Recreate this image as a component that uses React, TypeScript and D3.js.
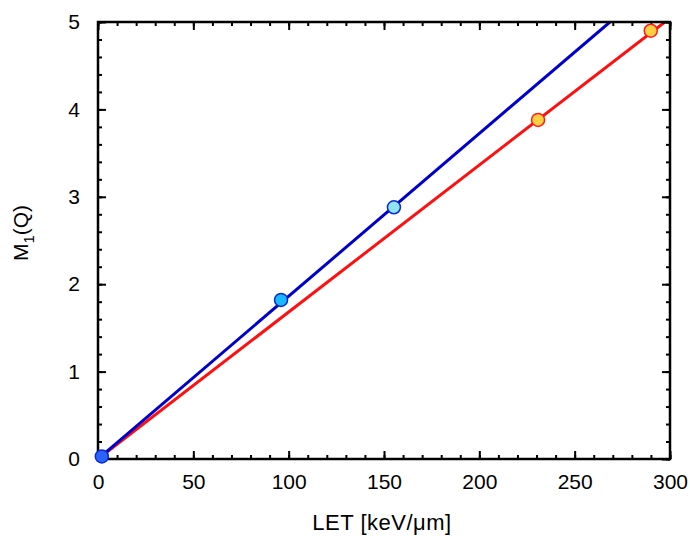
import React, { useRef, useEffect } from 'react';
import * as d3 from 'd3';

// measured points (LET, M1(Q))
const blueLET = [2, 96, 155.2];
const blueM1 = [0.03, 1.82, 2.88];
const blueFill = ['#2a63ff', '#1ab8ff', '#8ee4f2'];
const redLET = [230.8, 289.9];
const redM1 = [3.88, 4.9];

// fitted lines (x at start/end, y at start/end)
const blueLineX = [0, 268.5];
const blueLineY = [0, 5];
const redLineX = [0, 297.3];
const redLineY = [0, 5];

const xTicks = [0, 50, 100, 150, 200, 250, 300];
const yTicks = [0, 1, 2, 3, 4, 5];

const App = () => {
  const ref = useRef<SVGSVGElement>(null);

  useEffect(() => {
    const svg = d3.select(ref.current);
    svg.selectAll('*').remove();

    const margin = { top: 22, right: 20, bottom: 77, left: 98 };
    const width = 690 - margin.left - margin.right;
    const height = 536 - margin.top - margin.bottom;

    const x = d3.scaleLinear().domain([0, 300]).range([0, width]);
    const y = d3.scaleLinear().domain([0, 5]).range([height, 0]);

    const g = svg.append('g').attr('transform', `translate(${margin.left},${margin.top})`);

    const defs = svg.append('defs');
    defs.append('clipPath').attr('id', 'plotclip')
      .append('rect').attr('width', width).attr('height', height);

    // lines
    const line = d3.line<[number, number]>().x((d) => x(d[0])).y((d) => y(d[1]));
    const lines = g.append('g').attr('clip-path', 'url(#plotclip)');
    lines.append('path')
      .attr('d', line(redLineX.map((v, i) => [v, redLineY[i]] as [number, number])))
      .attr('stroke', '#ff1010').attr('stroke-width', 3).attr('fill', 'none');
    lines.append('path')
      .attr('d', line(blueLineX.map((v, i) => [v, blueLineY[i]] as [number, number])))
      .attr('stroke', '#0000cc').attr('stroke-width', 3).attr('fill', 'none');

    // axes: inward ticks on all four sides
    const font = 'Liberation Sans, Arial, sans-serif';
    const mk = (axis: d3.Axis<d3.NumberValue>, tf: string, minor: boolean) => {
      const a = g.append('g').attr('transform', tf).call(axis);
      a.select('.domain').remove();
      a.selectAll('line').attr('stroke', '#000').attr('stroke-width', 2);
      if (minor) a.selectAll('text').remove();
      return a;
    };
    const xMinor = d3.range(0, 301, 10);
    const yMinor = d3.range(0, 5.01, 0.2);

    mk(d3.axisBottom(x).tickValues(xMinor).tickSize(-4).tickFormat(() => ''), `translate(0,${height})`, true);
    mk(d3.axisTop(x).tickValues(xMinor).tickSize(-4).tickFormat(() => ''), 'translate(0,0)', true);
    mk(d3.axisLeft(y).tickValues(yMinor).tickSize(-4).tickFormat(() => ''), 'translate(0,0)', true);
    mk(d3.axisRight(y).tickValues(yMinor).tickSize(-4).tickFormat(() => ''), `translate(${width},0)`, true);

    const xb = mk(d3.axisBottom(x).tickValues(xTicks).tickSize(-8).tickPadding(15).tickFormat(d3.format('d')), `translate(0,${height})`, false);
    xb.selectAll('text').attr('font-size', 21).attr('font-family', font).attr('fill', '#000');
    mk(d3.axisTop(x).tickValues(xTicks).tickSize(-8).tickFormat(() => ''), 'translate(0,0)', true);
    const yl = mk(d3.axisLeft(y).tickValues(yTicks).tickSize(-8).tickPadding(18).tickFormat(d3.format('d')), 'translate(0,0)', false);
    yl.selectAll('text').attr('font-size', 21).attr('font-family', font).attr('fill', '#000');
    mk(d3.axisRight(y).tickValues(yTicks).tickSize(-8).tickFormat(() => ''), `translate(${width},0)`, true);

    g.append('rect').attr('width', width).attr('height', height)
      .attr('fill', 'none').attr('stroke', '#000').attr('stroke-width', 2.5);

    // markers
    g.selectAll('.bpt').data(blueLET).enter().append('circle')
      .attr('cx', (d) => x(d)).attr('cy', (_, i) => y(blueM1[i])).attr('r', 6.5)
      .attr('fill', (_, i) => blueFill[i]).attr('stroke', '#0a2ad0').attr('stroke-width', 1.5);
    g.selectAll('.rpt').data(redLET).enter().append('circle')
      .attr('cx', (d) => x(d)).attr('cy', (_, i) => y(redM1[i])).attr('r', 6.5)
      .attr('fill', '#ffd040').attr('stroke', '#ff1a1a').attr('stroke-width', 1.5);

    // titles
    svg.append('text').attr('x', margin.left + width / 2 - 2).attr('y', 530)
      .attr('text-anchor', 'middle').attr('font-size', 22).attr('letter-spacing', 0.5)
      .attr('font-family', font)
      .text('LET [keV/\u03bcm]');
    const yt = svg.append('text').attr('transform', `translate(28,233) rotate(-90)`)
      .attr('text-anchor', 'middle').attr('font-size', 21).attr('font-family', font);
    yt.append('tspan').text('M');
    yt.append('tspan').attr('font-size', 15).attr('dy', 6).text('1');
    yt.append('tspan').attr('dy', -6).text('(Q)');
  }, []);

  return (
    <svg ref={ref} width={690} height={536} style={{ display: 'block', position: 'absolute', left: 0, top: 0 }} />
  );
};

export default App;
